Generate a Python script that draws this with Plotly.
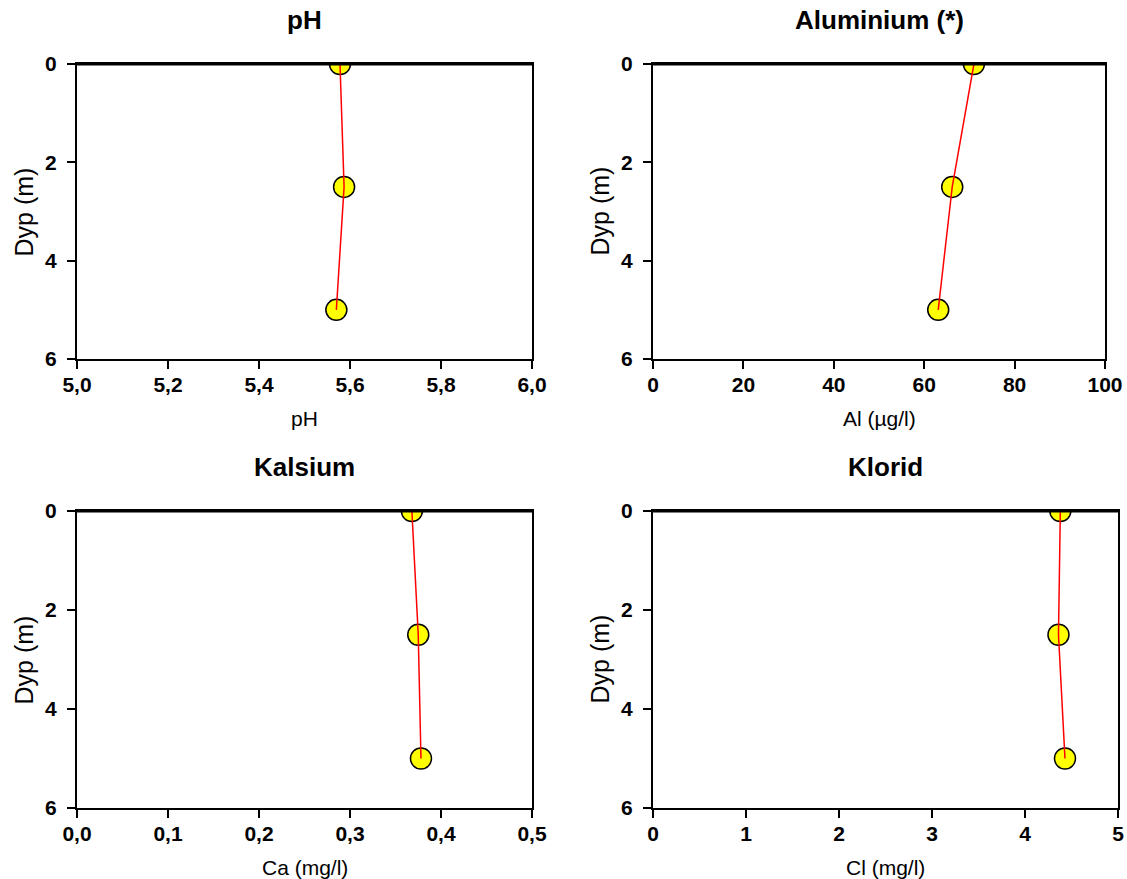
import plotly.graph_objects as go

W, H = 1127, 879

depth = [0, 2.5, 5]
ph_vals = [5.578, 5.587, 5.570]
al_vals = [71.0, 66.2, 63.1]
ca_vals = [0.368, 0.375, 0.378]
cl_vals = [4.38, 4.36, 4.43]

titles = ["pH", "Aluminium (*)", "Kalsium", "Klorid"]
xtitles = ["pH", "Al (µg/l)", "Ca (mg/l)", "Cl (mg/l)"]
xranges = [[5.0, 6.0], [0, 100], [0.0, 0.5], [0, 5]]
xdticks = [0.2, 20, 0.1, 1]
xformats = [".1f", "d", ".1f", "d"]
ytitle = "Dyp (m)"
yticks = [0, 2, 4, 6]

# plot areas in pixels (left, right, top, bottom)
boxes = [
    (77, 532, 64, 359),
    (653, 1105, 64, 359),
    (77, 532, 511, 808),
    (653, 1118, 511, 808),
]

FONT = "Liberation Sans, Arial, sans-serif"
series = [ph_vals, al_vals, ca_vals, cl_vals]


def px(v):
    return v / W


def py(v):
    return 1 - v / H


fig = go.Figure()
layout = dict(
    template="none",
    width=W, height=H, autosize=False,
    margin=dict(l=0, r=0, t=0, b=0, pad=0),
    paper_bgcolor="white", plot_bgcolor="white",
    showlegend=False,
    separators=",.",
    font=dict(family=FONT, color="black"),
)
annotations = []
shapes = []

for i, (vals, box) in enumerate(zip(series, boxes)):
    n = "" if i == 0 else str(i + 1)
    xa, ya = "x" + n, "y" + n
    l, r, t, b = box
    fig.add_trace(go.Scatter(
        x=vals, y=depth, xaxis=xa, yaxis=ya, mode="markers",
        marker=dict(size=21, color="#FFFF00", line=dict(color="black", width=1.5)),
        hoverinfo="skip",
    ))
    fig.add_trace(go.Scatter(
        x=vals, y=depth, xaxis=xa, yaxis=ya, mode="lines",
        line=dict(color="red", width=1.5),
        hoverinfo="skip",
    ))
    layout["xaxis" + n] = dict(
        domain=[px(l), px(r)], anchor=ya, range=xranges[i], automargin=False,
        tick0=xranges[i][0], dtick=xdticks[i], tickformat=xformats[i],
        ticks="outside", ticklen=8, tickwidth=2, tickcolor="black",
        showline=True, linewidth=2, linecolor="black", mirror=True,
        showgrid=False, zeroline=False,
        tickfont=dict(family=FONT, size=21, color="black", weight="bold"),
        ticklabelstandoff=-2,
    )
    layout["yaxis" + n] = dict(
        domain=[py(b), py(t)], anchor=xa, range=[6, 0], automargin=False,
        tickvals=yticks,
        ticks="outside", ticklen=8, tickwidth=2, tickcolor="black",
        showline=True, linewidth=2, linecolor="black", mirror=True,
        showgrid=False, zeroline=False,
        tickfont=dict(family=FONT, size=21, color="black", weight="bold"),
        ticklabelstandoff=6,
    )
    # slightly heavier top border
    shapes.append(dict(
        type="line", xref="paper", yref="paper",
        x0=px(l) - 1 / W, x1=px(r) + 1 / W, y0=py(t), y1=py(t),
        line=dict(color="black", width=3), layer="above",
    ))
    cx = px((l + r) / 2)
    cy = (t + b) / 2
    annotations.append(dict(
        text="<b>" + titles[i] + "</b>", xref="paper", yref="paper",
        x=cx, y=py(t - 44), xanchor="center", yanchor="middle",
        showarrow=False, font=dict(family=FONT, size=26, color="black"),
    ))
    annotations.append(dict(
        text=xtitles[i], xref="paper", yref="paper",
        x=cx, y=py(b + 59), xanchor="center", yanchor="middle",
        showarrow=False, font=dict(family=FONT, size=21, color="black"),
    ))
    annotations.append(dict(
        text=ytitle, xref="paper", yref="paper",
        x=px(l - 54), y=py(cy), xanchor="center", yanchor="middle",
        textangle=-90,
        showarrow=False, font=dict(family=FONT, size=25, color="black"),
    ))

layout["annotations"] = annotations
layout["shapes"] = shapes
fig.update_layout(**layout)
fig.write_html(
    "out.html",
    config={"displayModeBar": False, "staticPlot": True},
    post_script="document.body.style.margin='0';document.documentElement.style.overflow='hidden';",
)
